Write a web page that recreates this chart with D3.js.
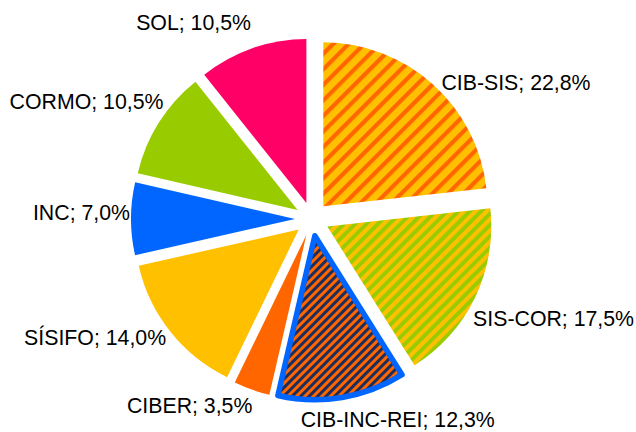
<!DOCTYPE html>
<html>
<head>
<meta charset="utf-8">
<script src="https://cdn.jsdelivr.net/npm/d3@7"></script>
<style>
  html, body { margin: 0; padding: 0; background: #fff; }
  svg { display: block; }
  text { font-family: "Liberation Sans", Arial, sans-serif; }
</style>
</head>
<body>
<div id="chart"></div>
<script>
// ---- data ----
const categories = ["CIB-SIS", "SIS-COR", "CIB-INC-REI", "CIBER", "SÍSIFO", "INC", "CORMO", "SOL"];
const shares = [22.8, 17.5, 12.3, 3.5, 14.0, 7.0, 10.5, 10.5];

// ---- styles / layout ----
const W = 636, H = 432;
const cx = 312, cy = 219, radius = 164, explode = 17, labelRadius = 185;
const fills = ["url(#p-cibsis)", "url(#p-siscor)", "url(#p-cibinc)", "#FF6600", "#FFC000", "#0066FF", "#99CC00", "#FF0066"];
const strokes = [null, null, "#0066FF", null, null, null, null, null];
// small label adjustments (px) relative to rule-based placement
const labelNudge = [[6, 9], [-5.5, 10.5], [55, 9.6], [2, 3.6], [-1, -5], [3, -6], [8, -11], [0, -14]];

const svg = d3.select("#chart").append("svg").attr("width", W).attr("height", H);
const defs = svg.append("defs");

function stripes(id, period, base, stripe, stripeW) {
  const p = defs.append("pattern").attr("id", id)
    .attr("patternUnits", "userSpaceOnUse")
    .attr("width", period).attr("height", period)
    .attr("patternTransform", "rotate(45)");
  p.append("rect").attr("width", period).attr("height", period).attr("fill", base);
  p.append("rect").attr("width", stripeW).attr("height", period).attr("fill", stripe);
}
stripes("p-cibsis", 11, "#FFC000", "#FF6600", 4.2);
stripes("p-siscor", 8, "#FFC000", "#99CC00", 4);
stripes("p-cibinc", 6, "#FF6600", "#1E2D5A", 3);

const pie = d3.pie().sort(null).value(d => d).startAngle(0).endAngle(2 * Math.PI);
const arcs = pie(shares);
const arc = d3.arc().innerRadius(0).outerRadius(radius);

const g = svg.append("g").attr("transform", `translate(${cx},${cy})`);

const slices = g.selectAll("g.slice").data(arcs).enter().append("g")
  .attr("class", "slice")
  .attr("transform", d => {
    const m = (d.startAngle + d.endAngle) / 2;
    return `translate(${explode * Math.sin(m)},${-explode * Math.cos(m)})`;
  });

slices.append("path")
  .attr("d", arc)
  .attr("fill", (d, i) => fills[i])
  .attr("stroke", (d, i) => strokes[i] || "none")
  .attr("stroke-width", (d, i) => strokes[i] ? 5.5 : 0)
  .attr("stroke-linejoin", "round");

const fmt = v => d3.format(".1f")(v).replace(".", ",");

g.selectAll("text.lbl").data(arcs).enter().append("text")
  .attr("class", "lbl")
  .attr("font-size", "21.3px")
  .attr("fill", "#000")
  .each(function (d, i) {
    const m = (d.startAngle + d.endAngle) / 2;
    const s = Math.sin(m), c = Math.cos(m);
    let x = labelRadius * s, y = -labelRadius * c;
    const anchor = s > 0.25 ? "start" : (s < -0.25 ? "end" : "middle");
    // visual center of text box
    let vc = c > 0.3 ? y - 8 : (c < -0.3 ? y + 8 : y);
    x += labelNudge[i][0];
    vc += labelNudge[i][1];
    d3.select(this)
      .attr("x", x)
      .attr("y", vc + 7.6)
      .attr("text-anchor", anchor)
      .text(`${categories[i]}; ${fmt(shares[i])}%`);
  });
</script>
</body>
</html>
